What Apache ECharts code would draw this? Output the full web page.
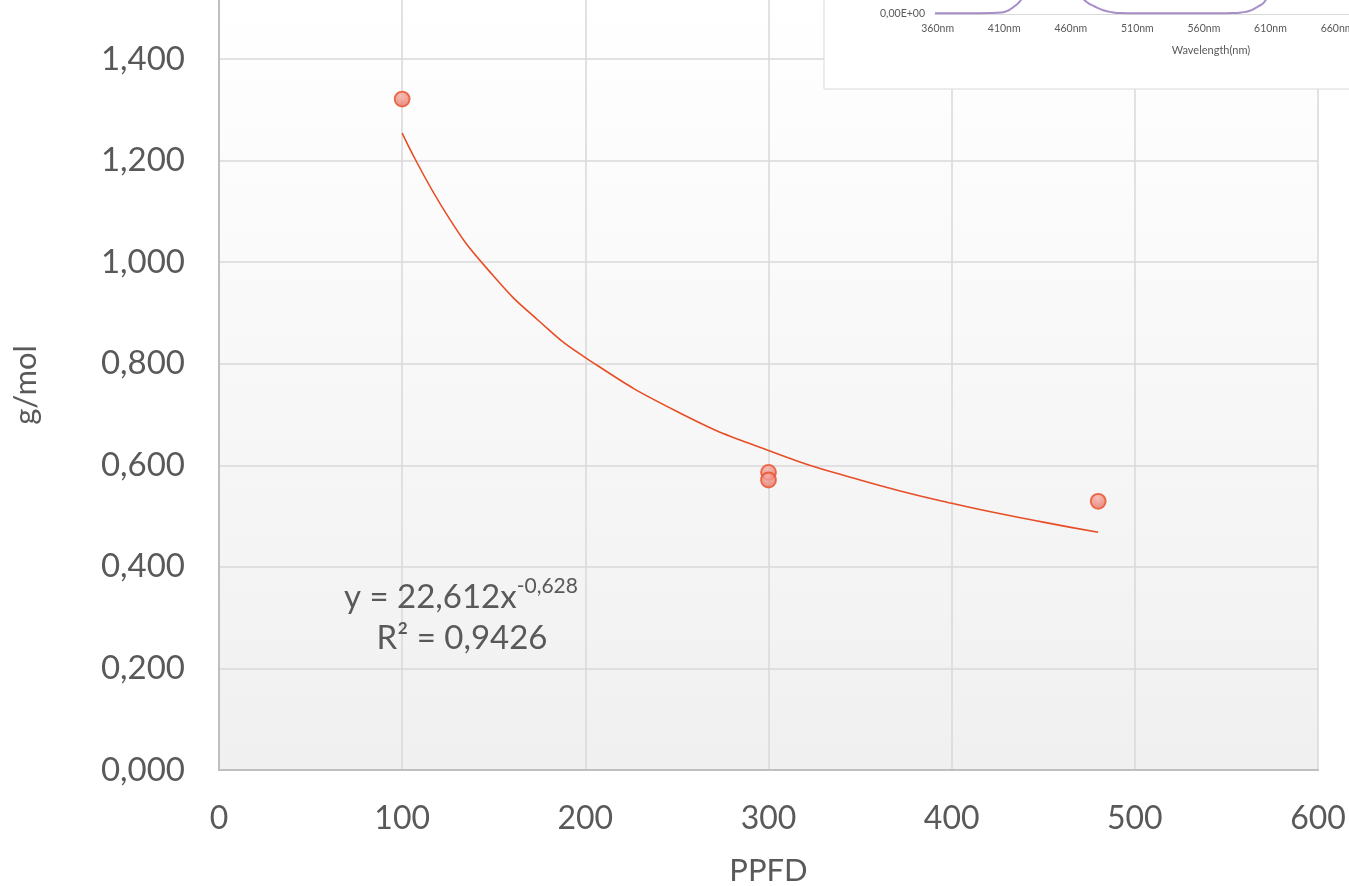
<!DOCTYPE html>
<html><head><meta charset="utf-8">
<script src="https://cdn.jsdelivr.net/npm/echarts@6/dist/echarts.min.js"></script>
<style>html,body{margin:0;padding:0;background:#fff}#c{width:1349px;height:886px}</style>
</head><body><div id="c"></div>
<script>
// Measured data points (PPFD, g/mol)
const ppfd = [100, 300, 300, 480];
const gmol = [1.321, 0.586, 0.571, 0.529];
// Power trendline
const trendX = [100, 125, 150, 175, 200, 250, 300, 350, 400, 450, 480];
const trendY = [1.254, 1.090, 0.972, 0.883, 0.812, 0.706, 0.629, 0.571, 0.525, 0.488, 0.468];
// Inset spectrum (only the bottom part is visible)
const wl = [358, 380, 400, 408, 413, 418, 423, 430, 440, 450, 460, 467, 472, 478, 485, 491, 497, 510, 540, 570, 582, 588, 594, 600, 606, 615, 630, 645, 660, 669];
const inten = [0.008, 0.008, 0.009, 0.014, 0.035, 0.08, 0.15, 0.35, 0.7, 1.0, 0.6, 0.2, 0.12, 0.075, 0.035, 0.018, 0.01, 0.008, 0.008, 0.008, 0.01, 0.016, 0.03, 0.07, 0.13, 0.4, 0.8, 1.0, 0.9, 0.7];
const insetTicks = [360, 410, 460, 510, 560, 610, 660];
const yTicks = [0, 0.2, 0.4, 0.6, 0.8, 1.0, 1.2, 1.4];

const FONT = 'Lato';
const GREY = '#595959';
const fmt3 = v => yTicks.some(t => Math.abs(t - v) < 1e-9) ? v.toFixed(3).replace('.', ',') : '';

const chart = echarts.init(document.getElementById('c'));
chart.setOption({
  animation: false,
  backgroundColor: '#fff',
  textStyle: { fontFamily: FONT },
  grid: [
    { left: 219, right: 31, top: 0, bottom: 116, show: true, borderWidth: 0,
      outerBoundsMode: 'none', containLabel: false,
      backgroundColor: { type: 'linear', x: 0, y: 0, x2: 0, y2: 1,
        colorStops: [{ offset: 0, color: '#ffffff' }, { offset: 1, color: '#f0f0f0' }] } },
    { left: 935, right: 0, top: 0, bottom: 872, z: 11, outerBoundsMode: 'none', containLabel: false }
  ],
  xAxis: [
    { type: 'value', gridIndex: 0, min: 0, max: 600, interval: 100,
      name: 'PPFD', nameLocation: 'middle', nameGap: 85,
      nameTextStyle: { fontFamily: FONT, fontSize: 31, color: GREY },
      axisLine: { show: true, onZero: false, lineStyle: { color: '#bfbfbf', width: 2 } },
      axisTick: { show: false },
      axisLabel: { fontFamily: FONT, fontSize: 32, color: GREY, margin: 33 },
      splitLine: { show: true, lineStyle: { color: '#d9d9d9', width: 1.5 } } },
    { type: 'value', gridIndex: 1, min: 358, max: 669, interval: 1, z: 11,
      axisLine: { show: true, onZero: false, lineStyle: { color: '#d9d9d9', width: 1 } },
      axisTick: { show: false },
      axisLabel: { fontFamily: FONT, fontSize: 10.5, color: GREY, margin: 9,
        showMinLabel: false, showMaxLabel: false,
        formatter: v => insetTicks.includes(Math.round(v)) && Math.abs(v - Math.round(v)) < 1e-6 ? Math.round(v) + 'nm' : '' },
      splitLine: { show: false } }
  ],
  yAxis: [
    { type: 'value', gridIndex: 0, min: 0, max: 1.516, interval: 0.2,
      name: 'g/mol', nameLocation: 'middle', nameGap: 178, nameRotate: 90,
      nameTextStyle: { fontFamily: FONT, fontSize: 31, color: GREY },
      axisLine: { show: true, lineStyle: { color: '#bfbfbf', width: 2 } },
      axisTick: { show: false },
      axisLabel: { fontFamily: FONT, fontSize: 33, color: GREY, margin: 34, formatter: fmt3, showMaxLabel: false },
      splitLine: { show: true, showMaxLine: false, lineStyle: { color: '#d9d9d9', width: 1.5 } } },
    { type: 'value', gridIndex: 1, min: 0, max: 0.14, interval: 0.14, z: 11,
      axisLine: { show: false }, axisTick: { show: false },
      axisLabel: { fontFamily: FONT, fontSize: 10.5, color: GREY, margin: 10,
        formatter: v => v === 0 ? '0,00E+00' : '' },
      splitLine: { show: false } }
  ],
  series: [
    { type: 'line', xAxisIndex: 0, yAxisIndex: 0, smooth: true, symbol: 'none', z: 2,
      data: trendX.map((x, i) => [x, trendY[i]]),
      lineStyle: { color: '#e84e25', width: 1.6 } },
    { type: 'scatter', xAxisIndex: 0, yAxisIndex: 0, symbolSize: 15, z: 3,
      data: ppfd.map((x, i) => [x, gmol[i]]),
      itemStyle: {
        color: { type: 'radial', x: 0.45, y: 0.3, r: 0.8,
          colorStops: [{ offset: 0, color: '#f6b0a9' }, { offset: 1, color: '#e2624f' }] },
        borderColor: '#e84e25', borderWidth: 1.8 } },
    { type: 'line', xAxisIndex: 1, yAxisIndex: 1, smooth: true, symbol: 'none', z: 12, clip: true,
      data: wl.map((x, i) => [x, inten[i]]),
      lineStyle: { color: '#a68fc9', width: 2 } }
  ],
  graphic: [
    { type: 'rect', z: 10, shape: { x: 824, y: -10, width: 540, height: 99 },
      style: { fill: '#ffffff', stroke: '#d9d9d9', lineWidth: 1 } },
    { type: 'text', z: 13, x: 1211, y: 50,
      style: { text: 'Wavelength(nm)', fontFamily: FONT, fontSize: 11, fill: GREY,
        align: 'center', verticalAlign: 'middle' } },
    { type: 'text', z: 5, x: 461, y: 595,
      style: { text: '{a|y = 22,612x}{s|-0,628}', align: 'center', verticalAlign: 'middle',
        rich: { a: { fontFamily: FONT, fontSize: 33, fill: GREY, verticalAlign: 'bottom', lineHeight: 38 },
                s: { fontFamily: FONT, fontSize: 21, fill: GREY, verticalAlign: 'top', padding: [0, 0, 14, 0] } } } },
    { type: 'text', z: 5, x: 462, y: 638,
      style: { text: 'R² = 0,9426', fontFamily: FONT, fontSize: 33, fill: GREY,
        align: 'center', verticalAlign: 'middle' } }
  ]
});
</script></body></html>
